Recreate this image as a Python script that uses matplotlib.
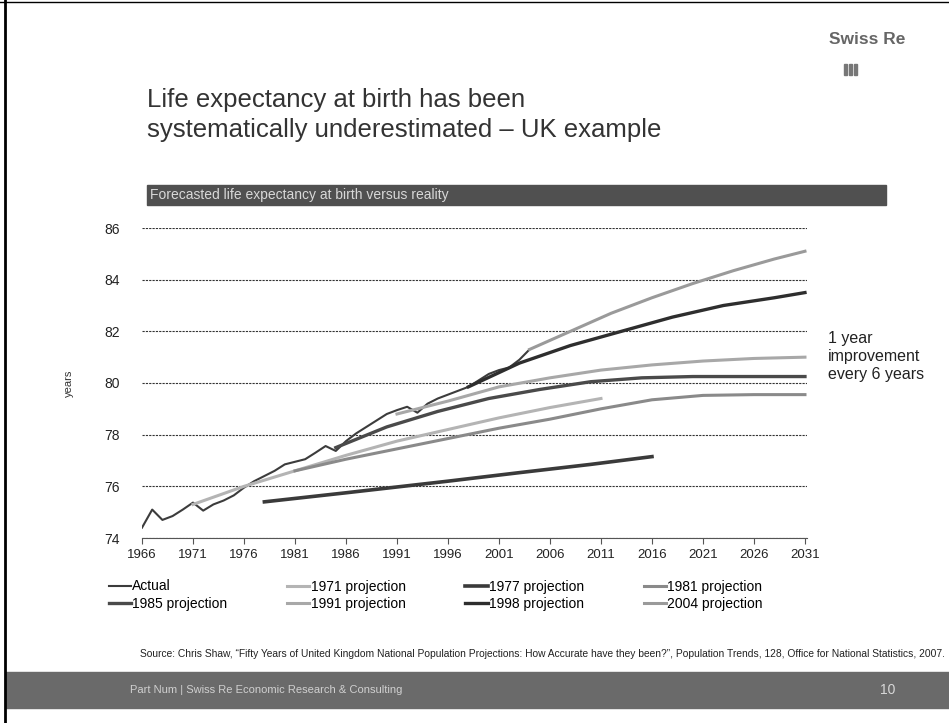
import matplotlib
matplotlib.use("Agg")
import matplotlib.pyplot as plt
from matplotlib.patches import Rectangle
from matplotlib.lines import Line2D

plt.rcParams['font.family'] = ['Liberation Sans', 'DejaVu Sans']

# observed life expectancy at birth (UK)
actual_years = list(range(1966, 2005))
actual = [74.4, 75.1, 74.7, 74.85, 75.1, 75.37, 75.06, 75.3, 75.45, 75.65,
          75.95, 76.2, 76.4, 76.6, 76.85, 76.95, 77.05, 77.3, 77.56, 77.37,
          77.75, 78.05, 78.3, 78.55, 78.8, 78.95, 79.08, 78.85, 79.2, 79.4,
          79.55, 79.7, 79.85, 80.1, 80.35, 80.5, 80.6, 80.9, 81.3]

# official projections
p1971_years = [1971, 1976, 1981, 1986, 1991, 1996, 2001, 2006, 2011]
p1971 = [75.3, 76.0, 76.6, 77.2, 77.75, 78.2, 78.65, 79.05, 79.4]

p1977_years = [1978, 1986, 1996, 2003, 2010, 2016]
p1977 = [75.4, 75.75, 76.2, 76.53, 76.85, 77.15]

p1981_years = [1981, 1986, 1991, 1996, 2001, 2006, 2011, 2016, 2021, 2026, 2031]
p1981 = [76.6, 77.05, 77.45, 77.85, 78.25, 78.6, 79.0, 79.35, 79.52, 79.55, 79.55]

p1985_years = [1985, 1990, 1995, 2000, 2005, 2010, 2015, 2020, 2025, 2031]
p1985 = [77.5, 78.3, 78.9, 79.4, 79.75, 80.05, 80.2, 80.25, 80.25, 80.25]

p1991_years = [1991, 1996, 2001, 2006, 2011, 2016, 2021, 2026, 2031]
p1991 = [78.8, 79.3, 79.85, 80.2, 80.5, 80.7, 80.85, 80.95, 81.0]

p1998_years = [1998, 2003, 2008, 2013, 2018, 2023, 2028, 2031]
p1998 = [79.85, 80.77, 81.45, 82.0, 82.55, 83.0, 83.3, 83.5]

p2004_years = [2004, 2008, 2012, 2016, 2020, 2024, 2028, 2031]
p2004 = [81.3, 82.0, 82.7, 83.3, 83.85, 84.35, 84.8, 85.1]

x_ticks = list(range(1966, 2032, 5))
y_ticks = [74, 76, 78, 80, 82, 84, 86]

fig = plt.figure(figsize=(9.49, 7.23), dpi=100)
W, H = 949, 723

def fx(px):
    return px / W

def fy(py):
    return 1 - py / H

# slide frame
fig.add_artist(Line2D([fx(5), fx(5)], [0, 1], color='black', lw=2))
fig.add_artist(Line2D([0, 1], [fy(2), fy(2)], color='black', lw=1))

# logo
fig.text(fx(905), fy(40), "Swiss Re", ha='right', va='center', fontsize=12.5,
         fontweight='bold', color='#666666')
for i in range(3):
    fig.add_artist(Rectangle((fx(844 + i * 5), fy(75)), fx(3), 11 / H,
                             color='#777777'))

# title
fig.text(fx(147), fy(100), "Life expectancy at birth has been", fontsize=18.5,
         color='#333333', va='center')
fig.text(fx(147), fy(130), "systematically underestimated \u2013 UK example",
         fontsize=18.5, color='#333333', va='center')

# grey header band
fig.add_artist(Rectangle((fx(147), fy(205)), fx(886 - 147), 20 / H,
                         color='#505050'))
fig.text(fx(150), fy(195), "Forecasted life expectancy at birth versus reality",
         fontsize=10, color='#d8d8d8', va='center')

ax = fig.add_axes([fx(142), fy(538), fx(807 - 142), (538 - 228) / H])

ax.plot(actual_years, actual, color='#3c3c3c', lw=1.5, label='Actual')
ax.plot(p1971_years, p1971, color='#b4b4b4', lw=2.2, label='1971 projection')
ax.plot(p1977_years, p1977, color='#3a3a3a', lw=2.6, label='1977 projection')
ax.plot(p1981_years, p1981, color='#8a8a8a', lw=2.2, label='1981 projection')
ax.plot(p1985_years, p1985, color='#4a4a4a', lw=2.4, label='1985 projection')
ax.plot(p1991_years, p1991, color='#a8a8a8', lw=2.2, label='1991 projection')
ax.plot(p1998_years, p1998, color='#2e2e2e', lw=2.4, label='1998 projection')
ax.plot(p2004_years, p2004, color='#9a9a9a', lw=2.2, label='2004 projection')

ax.set_xlim(1966, 2031.2)
ax.set_ylim(74, 86)
ax.set_xticks(x_ticks)
ax.set_xticklabels([str(t) for t in x_ticks], fontsize=9.5, color='#222222')
ax.set_yticks(y_ticks)
ax.set_yticklabels([str(t) for t in y_ticks], fontsize=10, color='#222222')
ax.tick_params(axis='y', length=0, pad=16)
ax.tick_params(axis='x', length=4, direction='out', color='#555555', pad=4)
for s in ['top', 'right', 'left']:
    ax.spines[s].set_visible(False)
ax.spines['bottom'].set_color('#555555')
ax.yaxis.grid(True, color='#333333', lw=0.8, linestyle=(0, (2, 1)))
ax.set_axisbelow(True)
ax.set_ylabel("years", fontsize=8, color='#333333', labelpad=22)

fig.text(fx(828), fy(356), "1 year\nimprovement\nevery 6 years", fontsize=11.5,
         color='#222222', va='center', ha='left', linespacing=1.25)

handles, labels = ax.get_legend_handles_labels()
order = [0, 4, 1, 5, 2, 6, 3, 7]
leg = fig.legend([handles[i] for i in order], [labels[i] for i in order],
                 ncol=4, loc='upper left', bbox_to_anchor=(fx(96), fy(567)),
                 frameon=False, fontsize=10, handlelength=1.6, handletextpad=0.1,
                 columnspacing=4.3, labelspacing=0.25)

fig.text(fx(945), fy(654),
         "Source: Chris Shaw, \u201cFifty Years of United Kingdom National Population "
         "Projections: How Accurate have they been?\u201d, Population Trends, 128, "
         "Office for National Statistics, 2007.",
         fontsize=7.4, ha='right', va='center', color='#222222')

# footer band
fig.add_artist(Rectangle((fx(6), fy(708)), 1 - fx(6), 36 / H, color='#6a6a6a'))
fig.text(fx(130), fy(690), "Part Num | Swiss Re Economic Research & Consulting",
         fontsize=8, color='#d0d0d0', va='center')
fig.text(fx(880), fy(690), "10", fontsize=10, color='#d8d8d8', va='center')

fig.savefig("out.png", dpi=100)
